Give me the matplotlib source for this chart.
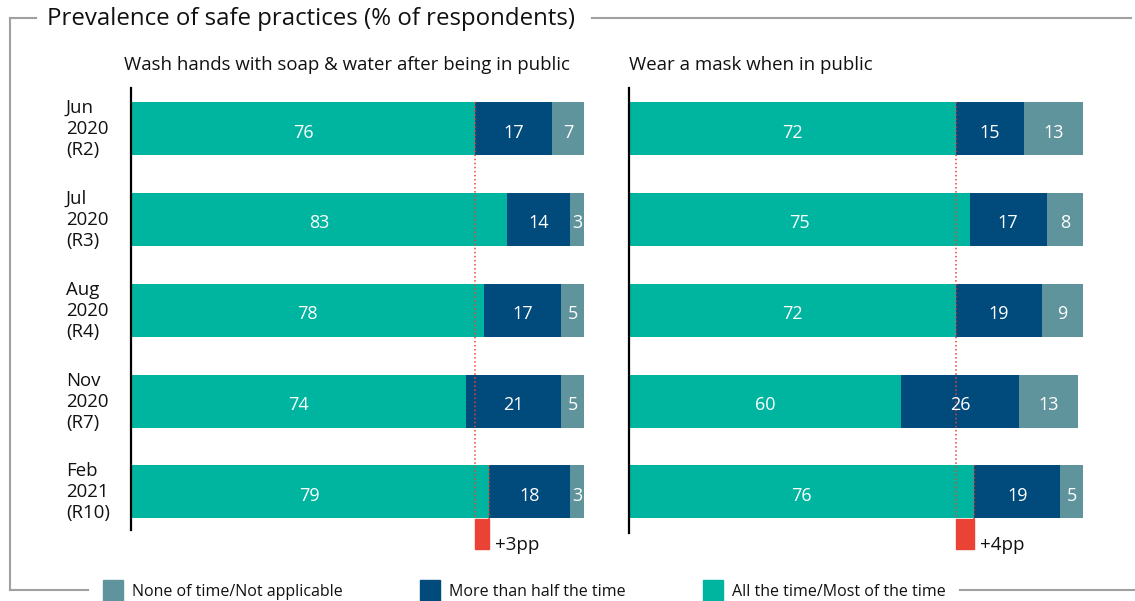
import matplotlib.pyplot as plt
from matplotlib.lines import Line2D
from matplotlib.patches import Rectangle

plt.rcParams["font.family"] = ["Open Sans", "DejaVu Sans"]

W, H = 1135, 601

rounds = ["Jun\n2020\n(R2)", "Jul\n2020\n(R3)", "Aug\n2020\n(R4)",
          "Nov\n2020\n(R7)", "Feb\n2021\n(R10)"]
categories = ["None of time/Not applicable", "More than half the time",
              "All the time/Most of the time"]

wash_all = [76, 83, 78, 74, 79]
wash_half = [17, 14, 17, 21, 18]
wash_none = [7, 3, 5, 5, 3]

mask_all = [72, 75, 72, 60, 76]
mask_half = [15, 17, 19, 26, 19]
mask_none = [13, 8, 9, 13, 5]

panels = [
    ("Wash hands with soap & water after being in public", wash_all, wash_half, wash_none),
    ("Wear a mask when in public", mask_all, mask_half, mask_none),
]

c_none = "#5f949c"
c_half = "#004b7c"
c_all = "#00b5a0"
c_red = "#ea4335"
c_frame = "#a0a0a0"


def fx(x):
    return x / W


def fy(y):
    return 1 - y / H


fig = plt.figure(figsize=(W / 100, H / 100), dpi=100)

# axes geometry in pixels
top_px, bot_px = 88, 551
ax_lefts = [131, 629]
ax_widths = [453, 454]
sub_x = [124, 629]
bar_h = 0.584

for i, (subtitle, s_all, s_half, s_none) in enumerate(panels):
    ax = fig.add_axes([fx(ax_lefts[i]), fy(bot_px), ax_widths[i] / W, (bot_px - top_px) / H])
    y = list(range(len(rounds)))
    ax.barh(y, s_all, height=bar_h, color=c_all, zorder=2)
    ax.barh(y, s_half, left=s_all, height=bar_h, color=c_half, zorder=2)
    lefts = [a + b for a, b in zip(s_all, s_half)]
    ax.barh(y, s_none, left=lefts, height=bar_h, color=c_none, zorder=2)

    for k in y:
        segs = [(0, s_all[k]), (s_all[k], s_half[k]), (lefts[k], s_none[k])]
        for start, val in segs:
            ax.text(start + val / 2, k + 0.02, str(val), ha="center", va="center_baseline",
                    color="white", fontsize=13, zorder=5)

    ax.set_xlim(0, 100)
    ax.set_ylim(4.65, -0.45)
    for s in ["top", "right", "bottom"]:
        ax.spines[s].set_visible(False)
    ax.spines["left"].set_linewidth(1.6)
    ax.spines["left"].set_bounds(-0.45, 4.42 if i == 0 else 4.45)
    ax.set_xticks([])
    ax.set_yticks([])
    ax.patch.set_alpha(0)

    # change between first and last round
    first, last = s_all[0], s_all[-1]
    ax.add_patch(Rectangle((first, 4.30), last - first, 0.33, color=c_red, zorder=3))
    ax.plot([first, first], [-bar_h / 2, 4.30], color=c_red, ls=":", lw=1.1, zorder=4)
    ax.plot([last, last], [4 - bar_h / 2, 4.63], color=c_red, ls=":", lw=1.1, zorder=4)
    ax.text(last + 1.3, 4.58, f"+{last - first}pp", ha="left", va="center",
            fontsize=13.5, color="#111111")

    fig.text(fx(sub_x[i]), fy(65), subtitle, ha="left", va="center",
             fontsize=13.4, color="#111111")

# row labels
row_px = [129, 220, 311, 402, 492]
for lab, yp in zip(rounds, row_px):
    fig.text(fx(66), fy(yp), lab, ha="left", va="center", fontsize=13.4,
             color="#111111", linespacing=1.22)

# frame with title and legend gaps
fig.text(fx(47), fy(19), "Prevalence of safe practices (% of respondents)",
         ha="left", va="center", fontsize=17.3, color="#111111")
frame = [
    ([10, 36], [18, 18]),
    ([592, 1131], [18, 18]),
    ([10, 10], [18, 590]),
    ([10, 88], [590, 590]),
    ([960, 1135], [590, 590]),
]
for xs, ys in frame:
    fig.add_artist(Line2D([fx(v) for v in xs], [fy(v) for v in ys],
                          transform=fig.transFigure, color=c_frame, lw=1.5))

# legend
leg_colors = [c_none, c_half, c_all]
leg_x = [103, 420, 703]
for lab, col, xp in zip(categories, leg_colors, leg_x):
    fig.add_artist(Rectangle((fx(xp), fy(601)), 20 / W, 21 / H, color=col,
                             transform=fig.transFigure))
    fig.text(fx(xp + 29), fy(592), lab, ha="left", va="center", fontsize=11.5,
             color="#111111")

fig.savefig("out.png", dpi=100)
